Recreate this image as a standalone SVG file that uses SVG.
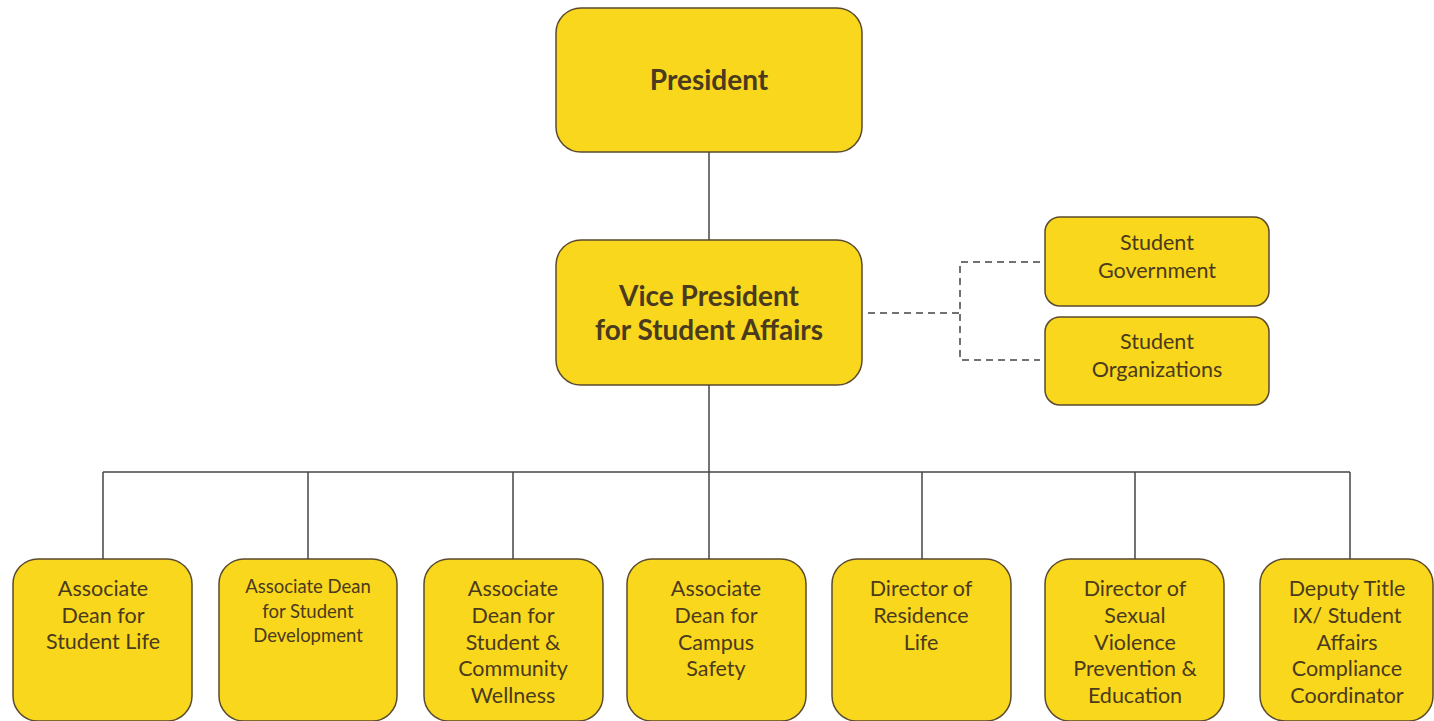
<svg xmlns="http://www.w3.org/2000/svg" width="1434" height="721" viewBox="0 0 1434 721">
<style>
.box{fill:#F9D71C;stroke:#5a4a2e;stroke-width:1.5}
.t{font-family:Lato,"Open Sans","Liberation Sans",sans-serif;fill:#4a3a1e;text-anchor:middle;font-size:21.5px}
.b{font-weight:bold;font-size:28px}
.s{font-size:18.5px}
.ln{stroke:#444;stroke-width:1.5;fill:none}
.dash{stroke:#444;stroke-width:1.5;fill:none;stroke-dasharray:7 5}
</style>
<rect width="1434" height="721" fill="#fff"/>
<g id="connectors">
<line class="ln" x1="709" y1="152" x2="709" y2="240"/>
<line class="ln" x1="709" y1="385" x2="709" y2="472"/>
<line class="ln" x1="103" y1="472" x2="1350" y2="472"/>
<line class="ln" x1="103" y1="472" x2="103" y2="559"/>
<line class="ln" x1="308" y1="472" x2="308" y2="559"/>
<line class="ln" x1="513" y1="472" x2="513" y2="559"/>
<line class="ln" x1="709" y1="472" x2="709" y2="559"/>
<line class="ln" x1="922" y1="472" x2="922" y2="559"/>
<line class="ln" x1="1135" y1="472" x2="1135" y2="559"/>
<line class="ln" x1="1350" y1="472" x2="1350" y2="559"/>
<path class="dash" d="M868 313 H960 M1040 262 H960 V360 H1040"/>
</g>
<g id="president">
<rect class="box" x="556" y="8" width="306" height="144" rx="25"/>
<text class="t b" x="709" y="90">President</text>
</g>
<g id="vp">
<rect class="box" x="556" y="240" width="306" height="145" rx="25"/>
<text class="t b" x="709" y="306">Vice President</text>
<text class="t b" x="709" y="340">for Student Affairs</text>
</g>
<g id="student-government">
<rect class="box" x="1045" y="217" width="224" height="89" rx="15"/>
<text class="t" x="1157" y="250">Student</text>
<text class="t" x="1157" y="278">Government</text>
</g>
<g id="student-organizations">
<rect class="box" x="1045" y="317" width="224" height="88" rx="15"/>
<text class="t" x="1157" y="349">Student</text>
<text class="t" x="1157" y="377">Organizations</text>
</g>
<g id="n1">
<rect class="box" x="13" y="559" width="179" height="162" rx="25"/>
<text class="t" x="103" y="596">Associate</text>
<text class="t" x="103" y="623">Dean for</text>
<text class="t" x="103" y="649">Student Life</text>
</g>
<g id="n2">
<rect class="box" x="219" y="559" width="178" height="162" rx="25"/>
<text class="t s" x="308" y="593">Associate Dean</text>
<text class="t s" x="308" y="618">for Student</text>
<text class="t s" x="308" y="642">Development</text>
</g>
<g id="n3">
<rect class="box" x="424" y="559" width="179" height="162" rx="25"/>
<text class="t" x="513" y="596">Associate</text>
<text class="t" x="513" y="623">Dean for</text>
<text class="t" x="513" y="650">Student &amp;</text>
<text class="t" x="513" y="676">Community</text>
<text class="t" x="513" y="703">Wellness</text>
</g>
<g id="n4">
<rect class="box" x="627" y="559" width="179" height="162" rx="25"/>
<text class="t" x="716" y="596">Associate</text>
<text class="t" x="716" y="623">Dean for</text>
<text class="t" x="716" y="650">Campus</text>
<text class="t" x="716" y="676">Safety</text>
</g>
<g id="n5">
<rect class="box" x="832" y="559" width="179" height="162" rx="25"/>
<text class="t" x="921" y="596">Director of</text>
<text class="t" x="921" y="623">Residence</text>
<text class="t" x="921" y="650">Life</text>
</g>
<g id="n6">
<rect class="box" x="1045" y="559" width="179" height="162" rx="25"/>
<text class="t" x="1135" y="596">Director of</text>
<text class="t" x="1135" y="623">Sexual</text>
<text class="t" x="1135" y="650">Violence</text>
<text class="t" x="1135" y="676">Prevention &amp;</text>
<text class="t" x="1135" y="703">Education</text>
</g>
<g id="n7">
<rect class="box" x="1260" y="559" width="173" height="162" rx="25"/>
<text class="t" x="1347" y="596">Deputy Title</text>
<text class="t" x="1347" y="623">IX/ Student</text>
<text class="t" x="1347" y="650">Affairs</text>
<text class="t" x="1347" y="676">Compliance</text>
<text class="t" x="1347" y="703">Coordinator</text>
</g>
</svg>
